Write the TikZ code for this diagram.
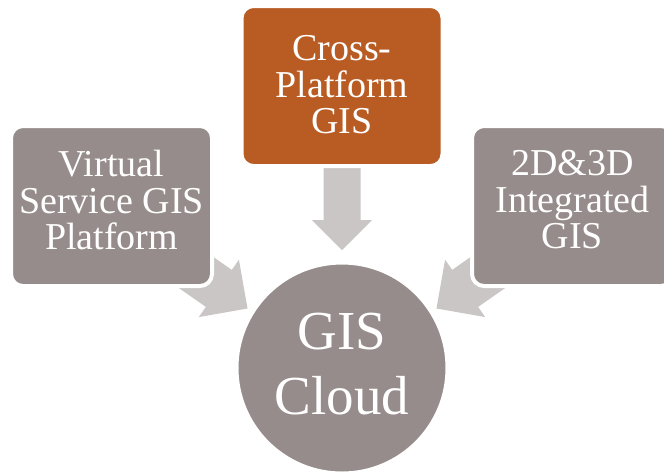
\documentclass[tikz,border=0pt]{standalone}
\usepackage{fontspec}
\setmainfont{Liberation Serif}
\definecolor{boxgray}{RGB}{150,140,139}
\definecolor{boxorange}{RGB}{184,92,36}
\definecolor{arrowgray}{RGB}{201,198,197}
\begin{document}
\begin{tikzpicture}[x=1pt,y=-1pt,
  card/.style={rectangle, rounded corners=12pt, draw=white, line width=4pt,
    minimum width=201pt, minimum height=160pt, inner sep=0pt},
  cardtext/.style={text=white, align=center, inner sep=0pt,
    font=\fontsize{38}{36.5}\selectfont},
  blockarrow/.style={fill=arrowgray, draw=none}]
\useasboundingbox (0,0) rectangle (664,475);
\clip (0,0) rectangle (664,475);
% block arrows
\fill[blockarrow] (323.5,168) -- (360.5,168) -- (360.5,220) -- (372,220)
  -- (342,250) -- (312,220) -- (323.5,220) -- cycle;
\begin{scope}[shift={(169.7,254)}, rotate=-35]
  \fill[blockarrow] (0,-22.6) -- (60,-22.6) -- (60,-35) -- (95,0)
    -- (60,35) -- (60,22.6) -- (0,22.6) -- cycle;
\end{scope}
\begin{scope}[shift={(514.3,254)}, rotate=-145]
  \fill[blockarrow] (0,-22.6) -- (60,-22.6) -- (60,-35) -- (95,0)
    -- (60,35) -- (60,22.6) -- (0,22.6) -- cycle;
\end{scope}
% boxes
\node[card, fill=boxgray] (vs) at (111.5,206) {};
\node[card, fill=boxorange] (cp) at (342,86) {};
\node[card, fill=boxgray] (dd) at (572.5,206) {};
\node[circle, fill=boxgray, draw=white, line width=3pt, minimum size=210pt, inner sep=0pt] (gc) at (342,368) {};
% texts
\node[cardtext] (vst) at ([yshift=6.0pt]vs.center) {Virtual\\Service GIS\\Platform};
\node[cardtext] (cpt) at ([yshift=1.0pt]cp.center) {Cross-\\Platform\\GIS};
\node[cardtext] (ddt) at ([yshift=6.0pt]dd.center) {2D\&3D\\Integrated\\GIS};
\node[text=white, align=center, inner sep=0pt, font=\fontsize{55}{65}\selectfont] (gct)
  at ([yshift=3.5pt]gc.center) {GIS\\Cloud};
\end{tikzpicture}
\end{document}
